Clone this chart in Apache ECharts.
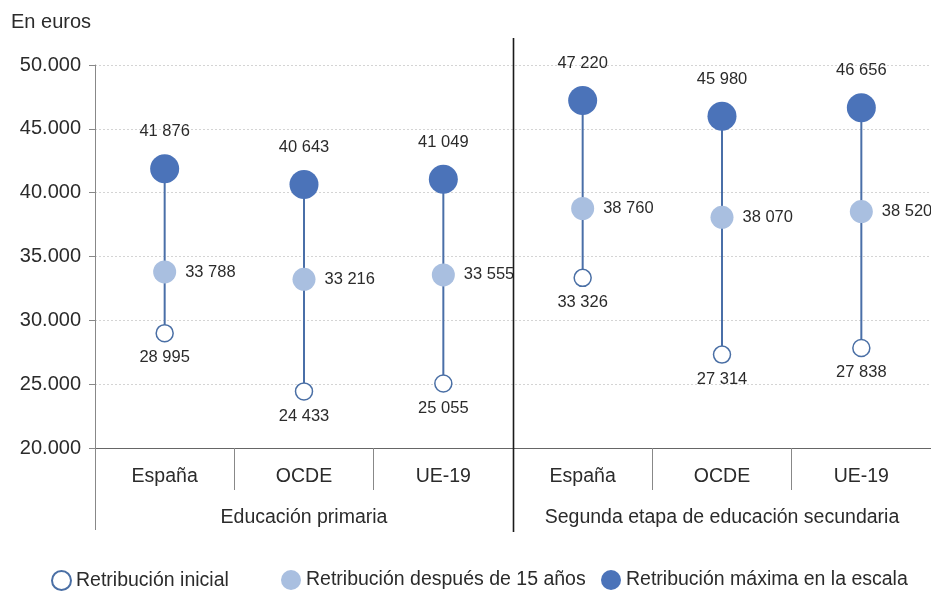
<!DOCTYPE html>
<html>
<head>
<meta charset="utf-8">
<script src="https://cdn.jsdelivr.net/npm/echarts@6/dist/echarts.min.js"></script>
<style>
html,body{margin:0;padding:0;background:#fff;}
#c{width:931px;height:593px;}
</style>
</head>
<body>
<div id="c"></div>
<script>
const categories = ['España', 'OCDE', 'UE-19', 'España', 'OCDE', 'UE-19'];
const groups = ['Educación primaria', 'Segunda etapa de educación secundaria'];
const initialPay = [28995, 24433, 25055, 33326, 27314, 27838];
const after15Pay = [33788, 33216, 33555, 38760, 38070, 38520];
const maxPay = [41876, 40643, 41049, 47220, 45980, 46656];
const seriesNames = ['Retribución inicial', 'Retribución después de 15 años', 'Retribución máxima en la escala'];
const yTicks = { min: 20000, max: 50000, interval: 5000 };

const FONT = '"Liberation Sans", Arial, sans-serif';
const TXT = '#2b2b2b';
const LINE = '#4a6fa8';

function spaceSep(v) { return String(v).replace(/\B(?=(\d{3})+(?!\d))/g, ' '); }
function dotSep(v) { return String(v).replace(/\B(?=(\d{3})+(?!\d))/g, '.'); }

const chart = echarts.init(document.getElementById('c'), null, { renderer: 'canvas' });

const rangeData = categories.map((c, i) => [i, initialPay[i], maxPay[i]]);

const labelBase = { show: true, fontFamily: FONT, fontSize: 16.5, color: TXT, opacity: 1 };
const legendText = { fontFamily: FONT, fontSize: 19.5, color: TXT };

const option = {
  backgroundColor: '#fff',
  animation: false,
  textStyle: { fontFamily: FONT },
  title: {
    text: 'En euros', left: 6, top: 7,
    textStyle: { fontFamily: FONT, fontSize: 20, fontWeight: 'normal', color: TXT }
  },
  grid: { left: 95, right: 0, top: 65, bottom: 145, containLabel: false },
  legend: [
    { data: [seriesNames[0]], left: 46, top: 565, itemWidth: 19, itemHeight: 19, textStyle: legendText },
    { data: [seriesNames[1]], left: 276, top: 565, itemWidth: 20, itemHeight: 20, textStyle: legendText },
    { data: [seriesNames[2]], left: 596, top: 565, itemWidth: 20, itemHeight: 20, textStyle: legendText }
  ],
  xAxis: [
    {
      type: 'category', data: categories, gridIndex: 0, position: 'bottom', boundaryGap: true,
      axisLine: { show: true, lineStyle: { color: '#666', width: 1 } },
      axisTick: { show: true, length: 42, lineStyle: { color: '#888', width: 1 } },
      axisLabel: { margin: 19, fontFamily: FONT, fontSize: 19.5, color: TXT, interval: 0 },
      splitLine: { show: false }
    },
    {
      type: 'category', data: groups, gridIndex: 0, position: 'bottom', offset: 0, boundaryGap: true,
      axisLine: { show: false }, axisTick: { show: false },
      axisLabel: { margin: 60, fontFamily: FONT, fontSize: 19.5, color: TXT, interval: 0 },
      splitLine: { show: false }
    }
  ],
  yAxis: {
    type: 'value', min: yTicks.min, max: yTicks.max, interval: yTicks.interval,
    axisLine: { show: true, lineStyle: { color: '#888', width: 1 } },
    axisTick: { show: true, length: 6, lineStyle: { color: '#888' } },
    axisLabel: { margin: 14, fontFamily: FONT, fontSize: 20, color: TXT, formatter: v => dotSep(v) },
    splitLine: { show: true, lineStyle: { color: '#d4d4d4', type: [2, 2], width: 1 } }
  },
  series: [
    {
      type: 'custom', name: 'range', xAxisIndex: 0, yAxisIndex: 0, z: 1,
      data: rangeData,
      renderItem: function (params, api) {
        const p1 = api.coord([api.value(0), api.value(1)]);
        const p2 = api.coord([api.value(0), api.value(2)]);
        return { type: 'line', shape: { x1: p1[0], y1: p1[1], x2: p2[0], y2: p2[1] }, style: { stroke: LINE, lineWidth: 2 } };
      },
      silent: true
    },
    {
      type: 'scatter', name: seriesNames[0], z: 3, symbol: 'circle', symbolSize: 17,
      data: initialPay.map((v, i) => [i, v]),
      itemStyle: { color: '#ffffff', borderColor: '#4a6fa5', borderWidth: 1.5, opacity: 1 },
      label: Object.assign({ position: 'bottom', distance: 7, formatter: p => spaceSep(p.value[1]) }, labelBase)
    },
    {
      type: 'scatter', name: seriesNames[1], z: 3, symbol: 'circle', symbolSize: 23,
      data: after15Pay.map((v, i) => [i, v]),
      itemStyle: { color: '#a9bfe0', opacity: 1 },
      label: Object.assign({ position: 'right', distance: 9, formatter: p => spaceSep(p.value[1]) }, labelBase)
    },
    {
      type: 'scatter', name: seriesNames[2], z: 3, symbol: 'circle', symbolSize: 29,
      data: maxPay.map((v, i) => [i, v]),
      itemStyle: { color: '#4b73b9', opacity: 1 },
      label: Object.assign({ position: 'top', distance: 14, formatter: p => spaceSep(p.value[1]) }, labelBase)
    }
  ]
};

chart.setOption(option);

function addGuides() {
  const c2 = chart.convertToPixel({ xAxisIndex: 0 }, 2);
  const c3 = chart.convertToPixel({ xAxisIndex: 0 }, 3);
  const c0 = chart.convertToPixel({ xAxisIndex: 0 }, 0);
  const c1 = chart.convertToPixel({ xAxisIndex: 0 }, 1);
  const band = c1 - c0;
  const leftX = c0 - band / 2;
  const divX = (c2 + c3) / 2;
  const yTop = chart.convertToPixel({ yAxisIndex: 0 }, yTicks.max);
  const yBot = chart.convertToPixel({ yAxisIndex: 0 }, yTicks.min);
  chart.setOption({
    graphic: [
      { type: 'line', z: 10, shape: { x1: Math.round(leftX) + 0.5, y1: yBot, x2: Math.round(leftX) + 0.5, y2: yBot + 82 }, style: { stroke: '#888', lineWidth: 1 } },
      { type: 'line', z: 10, shape: { x1: Math.round(divX) + 0.5, y1: yTop - 27, x2: Math.round(divX) + 0.5, y2: yBot + 84 }, style: { stroke: '#1a1a1a', lineWidth: 1.6 } }
    ]
  });
}
addGuides();
</script>
</body>
</html>
